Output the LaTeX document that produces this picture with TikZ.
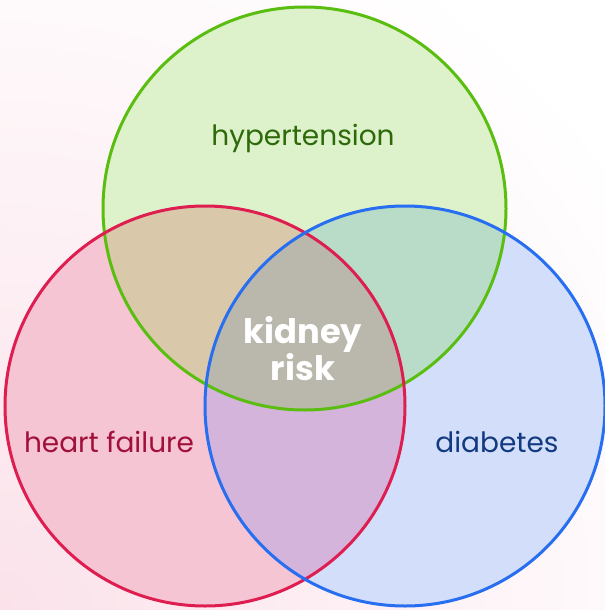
\documentclass[tikz,border=0pt]{standalone}
\usepackage{fontspec}
\setmainfont{Poppins}
\definecolor{bgpink}{RGB}{251,226,234}
\definecolor{gfill}{RGB}{221,241,203}
\definecolor{rfill}{RGB}{245,197,211}
\definecolor{bfill}{RGB}{211,223,250}
\definecolor{rgfill}{RGB}{217,200,170}
\definecolor{gbfill}{RGB}{185,220,200}
\definecolor{rbfill}{RGB}{212,180,218}
\definecolor{allfill}{RGB}{186,184,172}
\definecolor{gline}{RGB}{90,190,16}
\definecolor{rline}{RGB}{222,30,80}
\definecolor{bline}{RGB}{40,110,240}
\definecolor{gtext}{RGB}{46,106,10}
\definecolor{rtext}{RGB}{160,16,58}
\definecolor{btext}{RGB}{18,58,128}
\tikzset{
  ring/.style={line width=2.25pt},
  lbl/.style={font=\fontsize{21}{24}\selectfont, inner sep=0pt, anchor=base},
  centerlbl/.style={font=\fontsize{25.3}{28}\selectfont\bfseries, text=white, inner sep=0pt, anchor=base}
}
\begin{document}
\begin{tikzpicture}[x=0.75pt,y=-0.75pt]
\useasboundingbox (0,0) rectangle (605,610);
\begin{scope}
  \clip (0,0) rectangle (605,610);
  \fill[white] (0,0) rectangle (605,610);
  \shade[inner color=bgpink, outer color=white] (0,610) circle (760);
\end{scope}
\coordinate (G) at (304.5,208.5);
\coordinate (R) at (205,406);
\coordinate (B) at (405,406);
% fills
\fill[gfill] (G) circle (201.5);
\fill[rfill] (R) circle (200);
\fill[bfill] (B) circle (200);
\begin{scope}
  \clip (G) circle (201.5);
  \fill[rgfill] (R) circle (200);
  \fill[gbfill] (B) circle (200);
\end{scope}
\begin{scope}
  \clip (R) circle (200);
  \fill[rbfill] (B) circle (200);
\end{scope}
\begin{scope}
  \clip (G) circle (201.5);
  \clip (R) circle (200);
  \fill[allfill] (B) circle (200);
\end{scope}
% strokes
\draw[ring, gline] (G) circle (201.5);
\draw[ring, rline] (R) circle (200);
\draw[ring, bline] (B) circle (200);
% labels
\node[lbl, text=gtext] (hyp) at (303,145) {hypertension};
\node[lbl, text=rtext] (hf) at (109,452) {heart failure};
\node[lbl, text=btext] (dia) at (497,452) {diabetes};
\node[centerlbl] (kid) at (303,343) {kidney};
\node[centerlbl] (risk) at (303,380) {risk};
\end{tikzpicture}
\end{document}
